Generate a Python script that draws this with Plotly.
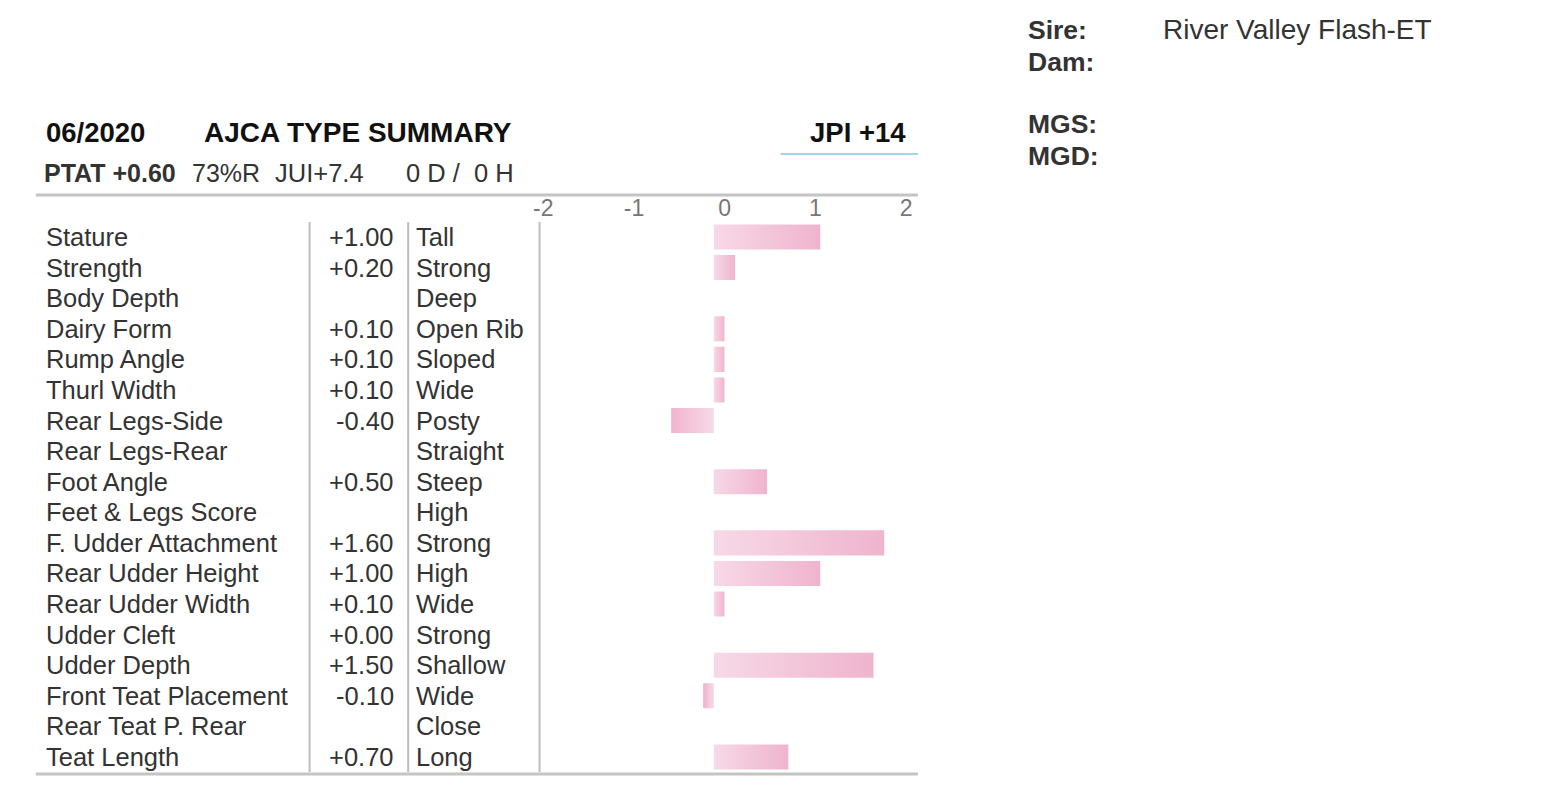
import plotly.graph_objects as go

# ---------------- data ----------------
TRAITS = ["Stature", "Strength", "Body Depth", "Dairy Form", "Rump Angle", "Thurl Width",
          "Rear Legs-Side", "Rear Legs-Rear", "Foot Angle", "Feet & Legs Score",
          "F. Udder Attachment", "Rear Udder Height", "Rear Udder Width", "Udder Cleft",
          "Udder Depth", "Front Teat Placement", "Rear Teat P. Rear", "Teat Length"]
VALUES = [1.00, 0.20, None, 0.10, 0.10, 0.10, -0.40, None, 0.50, None,
          1.60, 1.00, 0.10, 0.00, 1.50, -0.10, None, 0.70]
DESCRIPTORS = ["Tall", "Strong", "Deep", "Open Rib", "Sloped", "Wide", "Posty", "Straight",
               "Steep", "High", "Strong", "High", "Wide", "Strong", "Shallow", "Wide",
               "Close", "Long"]
TICK_VALUES = [-2, -1, 0, 1, 2]
TICK_LABELS = ["-2", "-1", "0", "1", "2"]

DATE = "06/2020"
TITLE = "AJCA TYPE SUMMARY"
JPI = "JPI +14"
PTAT = "PTAT +0.60"
REL = "73%R"
JUI = "JUI+7.4"
DAUGHTERS = "0 D /  0 H"
PEDIGREE_LABELS = ["Sire:", "Dam:", "MGS:", "MGD:"]
PEDIGREE_NAMES = ["River Valley Flash-ET", "", "", ""]

# ---------------- layout helpers ----------------
W, H = 1547, 809
FONT = "Arial, 'Liberation Sans', sans-serif"
TEXT = "#333333"
XS = 3  # small horizontal correction


def px(x):
    return (x - XS) / W


def py(y):
    return 1 - y / H


fig = go.Figure()

# bars with a light-to-dark gradient from zero to tip
LIGHT = "#f7d9e6"
DARK = "#efb4ce"
HALF = 0.41
for i, v in enumerate(VALUES):
    if v is None or v == 0:
        continue
    scale = [[0, LIGHT], [1, DARK]] if v > 0 else [[0, DARK], [1, LIGHT]]
    fig.add_trace(go.Scatter(
        x=[0, v, v, 0, 0],
        y=[i - HALF, i - HALF, i + HALF, i + HALF, i - HALF],
        mode="lines", fill="toself",
        line=dict(width=0, color="rgba(0,0,0,0)"),
        fillgradient=dict(type="horizontal", colorscale=scale),
        hoverinfo="skip", showlegend=False,
    ))

# invisible trace to carry the tick axis
fig.add_trace(go.Scatter(x=TICK_VALUES, y=[0] * len(TICK_VALUES), xaxis="x2",
                         mode="markers", marker=dict(opacity=0),
                         hoverinfo="skip", showlegend=False))

annotations = []
ROW = 25.5
for i, (t, v, d) in enumerate(zip(TRAITS, VALUES, DESCRIPTORS)):
    annotations.append(dict(x=px(40), y=i, xref="paper", yref="y", text=t,
                            xanchor="left", yanchor="middle", showarrow=False,
                            font=dict(family=FONT, size=ROW, color=TEXT)))
    if v is not None:
        annotations.append(dict(x=px(394), y=i, xref="paper", yref="y",
                                text=f"{v:+.2f}", xanchor="right", yanchor="middle",
                                showarrow=False, font=dict(family=FONT, size=ROW, color=TEXT)))
    annotations.append(dict(x=px(412), y=i, xref="paper", yref="y", text=d,
                            xanchor="left", yanchor="middle", showarrow=False,
                            font=dict(family=FONT, size=ROW, color=TEXT)))


def header(text, x, y, size, bold=False, color="#111111", anchor="left"):
    annotations.append(dict(x=px(x), y=py(y), xref="paper", yref="paper",
                            text=f"<b>{text}</b>" if bold else text,
                            xanchor=anchor, yanchor="middle", showarrow=False,
                            font=dict(family=FONT, size=size, color=color)))


header(DATE, 40, 133, 27.5, bold=True)
header(TITLE, 199, 133, 28, bold=True)
header(JPI, 908, 133, 27.5, bold=True, anchor="right")
header(PTAT, 38, 173, 25, bold=True, color="#333333")
header(REL, 187, 173, 25, color="#333333")
header(JUI, 270, 173, 25.5, color="#333333")
header(DAUGHTERS, 402, 173, 25.5, color="#333333")
for lab, yy in zip(PEDIGREE_LABELS, [30, 62, 124, 156]):
    header(lab, 1027, yy, 26.5, bold=True, color="#333333")
for name, yy in zip(PEDIGREE_NAMES, [30, 62, 124, 156]):
    if name:
        header(name, 1162, yy, 28, color="#333333")

LINE = "#bdbdbd"
shapes = [
    dict(type="line", xref="paper", yref="paper", x0=px(32), x1=px(918), y0=py(195), y1=py(195),
         line=dict(color="#c4c4c4", width=3)),
    dict(type="line", xref="paper", yref="paper", x0=px(32), x1=px(918), y0=py(774), y1=py(774),
         line=dict(color="#c4c4c4", width=3)),
    dict(type="line", xref="paper", yref="paper", x0=px(780), x1=px(918), y0=py(154), y1=py(154),
         line=dict(color="#a9d5ea", width=2)),
]
for xv in [307, 406, 538]:
    shapes.append(dict(type="line", xref="paper", yref="paper", x0=px(xv), x1=px(xv),
                       y0=py(772), y1=py(222), line=dict(color=LINE, width=2)))

fig.update_layout(
    width=W, height=H, autosize=False,
    margin=dict(l=0, r=0, t=0, b=0),
    paper_bgcolor="white", plot_bgcolor="white",
    xaxis=dict(domain=[px(538), px(918)], range=[-175 / 107, 205 / 107],
               showticklabels=False, showgrid=False, zeroline=False, showline=False,
               fixedrange=True),
    xaxis2=dict(domain=[px(538), px(918)], range=[-2.04, 2.128], overlaying="x",
                anchor="y", side="top", tickvals=TICK_VALUES, ticktext=TICK_LABELS,
                tickfont=dict(family=FONT, size=23, color="#777777"),
                showgrid=False, zeroline=False, showline=False, ticks="", fixedrange=True),
    yaxis=dict(domain=[py(772.3), py(221.7)], range=[17.5, -0.5],
               showticklabels=False, showgrid=False, zeroline=False, showline=False,
               fixedrange=True),
    annotations=annotations, shapes=shapes, showlegend=False,
)

fig.write_html("out.html", config={"displayModeBar": False},
               post_script="document.body.style.margin='0';document.body.style.overflow='hidden';")
